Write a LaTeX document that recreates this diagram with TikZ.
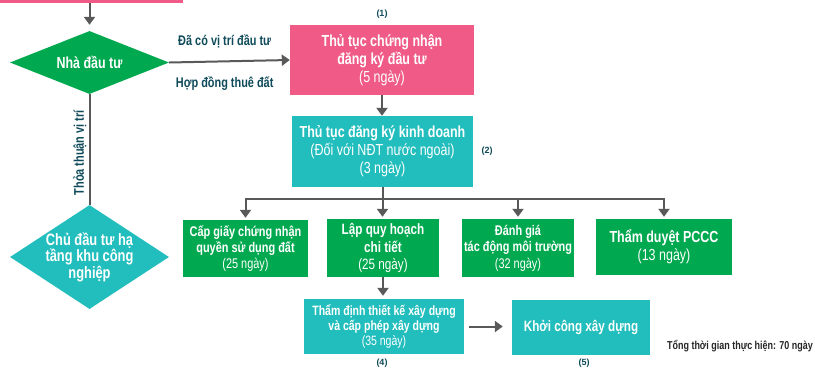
\documentclass[tikz,border=0pt]{standalone}
\usepackage{fontspec}
\setmainfont{Liberation Sans}[FakeStretch=0.78]
\newfontfamily\numf{Liberation Sans}
\usetikzlibrary{shapes.geometric,arrows.meta}
\definecolor{cpink}{HTML}{EF5B86}
\definecolor{cteal}{HTML}{22BDBD}
\definecolor{cgreen}{HTML}{00A94F}
\definecolor{cdark}{HTML}{0E4A59}
\definecolor{carrow}{HTML}{595959}
\definecolor{ctotal}{HTML}{262626}
\begin{document}
\begin{tikzpicture}[x=1pt,y=-1pt,
  box/.style={rectangle, inner sep=0, align=center, text=white},
  pinkbox/.style={box, fill=cpink},
  tealbox/.style={box, fill=cteal},
  greenbox/.style={box, fill=cgreen},
  dia/.style={diamond, inner sep=0, minimum width=159pt},
  dtext/.style={align=center, text=white, font=\bfseries\fontsize{16}{16.5}\selectfont},
  arr/.style={draw=carrow, line width=2pt, -{Triangle[width=11pt,length=8pt]}},
  ln/.style={draw=carrow, line width=2pt},
  lbl/.style={text=cdark, font=\bfseries\fontsize{14}{16}\selectfont, inner sep=0},
  num/.style={text=cdark, font=\numf\bfseries\fontsize{9}{10}\selectfont, inner sep=0},
  tf/.style 2 args={font=\bfseries\fontsize{#1}{#2}\selectfont},
]
\useasboundingbox (0,0) rectangle (815,368);
\newcommand\lt[1]{{\mdseries #1}}

% top partial box
\node[fill=cpink, minimum width=183pt, minimum height=3pt, inner sep=0, anchor=north west] (top) at (0,0) {};

% diamonds
\node[dia, fill=cgreen, minimum height=63pt] (d1) at (89.5,62.5) {};
\node[dtext] (d1t) at (d1) {Nhà đầu tư};
\node[dia, fill=cteal, minimum height=104pt] (d2) at (89.5,257) {};
\node[dtext, font=\bfseries\fontsize{16.5}{16.5}\selectfont] (d2t) at (d2) {Chủ đầu tư hạ\\tầng khu công\\nghiệp};

% boxes
\node[pinkbox, minimum width=184pt, minimum height=70pt, tf={16}{18}] (p1) at (382,60)
  {Thủ tục chứng nhận\\đăng ký đầu tư\\\lt{(5 ngày)}};
\node[tealbox, minimum width=181pt, minimum height=71pt, tf={16}{18}] (t2) at (382.5,151.5)
  {Thủ tục đăng ký kinh doanh\\\lt{(Đối với NĐT nước ngoài)}\\\lt{(3 ngày)}};
\node[greenbox, minimum width=125pt, minimum height=57pt, tf={14}{16}] (g1) at (245.5,248.5)
  {Cấp giấy chứng nhận\\quyền sử dụng đất\\\lt{(25 ngày)}};
\node[greenbox, minimum width=112pt, minimum height=58pt, tf={15}{17.5}] (g2) at (383,248)
  {Lập quy hoạch\\chi tiết\\\lt{(25 ngày)}};
\node[greenbox, minimum width=112pt, minimum height=58pt, tf={14}{16.5}] (g3) at (518,248)
  {Đánh giá\\tác động môi trường\\\lt{(32 ngày)}};
\node[greenbox, minimum width=136pt, minimum height=56pt, tf={16}{18}] (g4) at (664,247)
  {Thẩm duyệt PCCC\\\lt{(13 ngày)}};
\node[tealbox, minimum width=160pt, minimum height=55pt, tf={13.5}{15}] (t4) at (384,326.5)
  {Thẩm định thiết kế xây dựng\\và cấp phép xây dựng\\\lt{(35 ngày)}};
\node[tealbox, minimum width=138pt, minimum height=55pt, tf={15}{17}] (t5) at (581,327.5)
  {Khởi công xây dựng};

% numbers
\node[num] (n1) at (382,14) {(1)};
\node[num] (n2) at (487,151) {(2)};
\node[num] (n4) at (382,363) {(4)};
\node[num] (n5) at (584,363) {(5)};
\node[text=ctotal, font=\bfseries\fontsize{11.5}{13}\selectfont, inner sep=0] (tot) at (740,346)
  {Tổng thời gian thực hiện: 70 ngày};

% connectors
\draw[arr, shorten >=6pt] (top.south -| d1.north) -- (d1.north);
\draw[arr] (d1.east) -- node[lbl, pos=0.46, above=12pt] (la) {Đã có vị trí đầu tư}
  node[lbl, pos=0.46, below=14pt] (lb) {Hợp đồng thuê đất} (p1.west);
\draw[ln] (d1.south) -- node[lbl, rotate=90, anchor=south, yshift=2pt, pos=0.53] (lc) {Thỏa thuận vị trí} (d2.north);
\draw[arr] (p1.south) -- (p1.south |- t2.north);
\coordinate (bus) at (382.5,199);
\draw[ln] (t2.south) -- (bus);
\draw[arr, shorten >=2pt] (bus) -| (g1.north);
\draw[arr, shorten >=2pt] (bus) -- (bus |- g2.north);
\draw[arr, shorten >=2pt] (bus) -| (g3.north);
\draw[arr, shorten >=2pt] (bus) -| (g4.north);
\draw[arr, shorten >=3pt] (g2.south) -- (g2.south |- t4.north);
\draw[arr, shorten <=5pt, shorten >=9pt] (t4.east) -- (t4.east -| t5.west);
\end{tikzpicture}
\end{document}
